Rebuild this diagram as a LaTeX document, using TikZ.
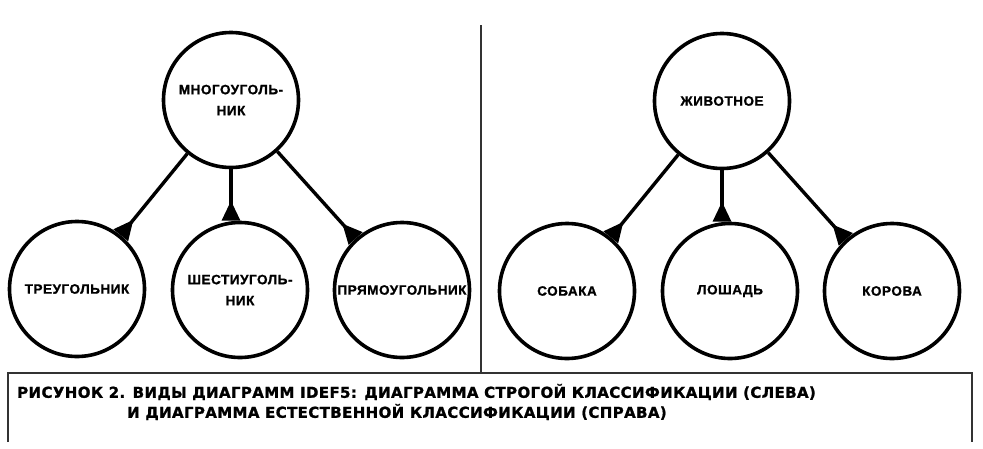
\documentclass[tikz,border=0pt]{standalone}
\usepackage{fontspec}
\usepackage{tikz}
\usetikzlibrary{arrows.meta}
\newfontfamily\labelFont[LetterSpace=4, BoldFeatures={FakeBold=1.2}]{Liberation Sans}
\newfontfamily\captionFont[LetterSpace=2.5, BoldFeatures={FakeBold=1.2}]{DejaVu Sans}
\tikzstyle{diagram} = [x = 1pt, y = -1pt]
\tikzstyle{classCircle} = [draw, circle, line width=3.6pt, minimum size=135pt, inner sep=0pt, align=center, font=\labelFont\bfseries\fontsize{13.5}{21}\selectfont]
\tikzstyle{classLink} = [line width=3.4pt, -{Triangle[reversed, length=20pt, width=18pt]}]
\tikzstyle{frameLine} = [line width=2pt, color=black!80]
\tikzstyle{captionText} = [anchor=west, inner sep=0pt, font=\captionFont\bfseries\fontsize{15}{20}\selectfont]
\newcommand{\classNode}[4]{\node [classCircle] (#1) at (#2, #3) {#4};}
\newcommand{\classLinks}[4]{
  \draw [classLink] (#1) -- (#2);
  \draw [classLink] (#1) -- (#1 |- #3.north);
  \draw [classLink] (#1) -- (#4);
}

\begin{document}
\begin{tikzpicture}[diagram]
  \useasboundingbox (0, 0) rectangle (983, 448);

  % strict classification
  \classNode{polygon}{231}{100}{МНОГОУГОЛЬ-\\НИК}
  \classNode{triangle}{77}{289}{ТРЕУГОЛЬНИК}
  \classNode{hexagon}{240}{290}{ШЕСТИУГОЛЬ-\\НИК}
  \classNode{rectangle}{402}{290}{ПРЯМОУГОЛЬНИК}
  \classLinks{polygon}{triangle}{hexagon}{rectangle}

  % natural classification
  \classNode{animal}{722}{101}{ЖИВОТНОЕ}
  \classNode{dog}{567}{291}{СОБАКА}
  \classNode{horse}{730}{291}{ЛОШАДЬ}
  \classNode{cow}{892}{291}{КОРОВА}
  \classLinks{animal}{dog}{horse}{cow}

  % frame and caption
  \draw [frameLine] (481, 25) -- (481, 373);
  \draw [frameLine] (8, 442) |- (972, 373) -- (972, 442);
  \node [captionText] (captionTop) at (17, 392) {РИСУНОК 2. ВИДЫ ДИАГРАММ IDEF5: ДИАГРАММА СТРОГОЙ КЛАССИФИКАЦИИ (СЛЕВА)};
  \node [captionText] (captionBottom) at (127, 412) {И ДИАГРАММА ЕСТЕСТВЕННОЙ КЛАССИФИКАЦИИ (СПРАВА)};
\end{tikzpicture}
\end{document}
